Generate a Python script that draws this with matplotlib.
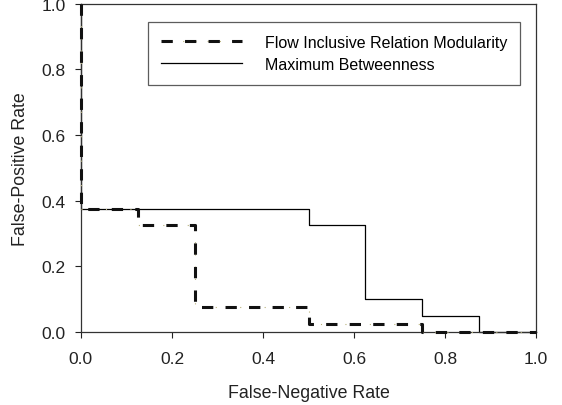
import matplotlib
matplotlib.use("Agg")
import matplotlib.pyplot as plt
from matplotlib.lines import Line2D

plt.rcParams['font.family'] = ['Liberation Sans', 'DejaVu Sans']

# Flow Inclusive Relation Modularity (step curve vertices)
fir_x = [0.0, 0.0, 0.125, 0.125, 0.25, 0.25, 0.5, 0.5, 0.75, 0.75, 1.0]
fir_y = [1.0, 0.375, 0.375, 0.325, 0.325, 0.075, 0.075, 0.025, 0.025, 0.0, 0.0]

# Maximum Betweenness
mb_x = [0.0, 0.0, 0.5, 0.5, 0.625, 0.625, 0.75, 0.75, 0.875, 0.875, 1.0]
mb_y = [1.0, 0.375, 0.375, 0.325, 0.325, 0.1, 0.1, 0.05, 0.05, 0.0, 0.0]

ticks = [0.0, 0.2, 0.4, 0.6, 0.8, 1.0]
tick_labels = ["0.0", "0.2", "0.4", "0.6", "0.8", "1.0"]

OLIVE = '#b8b27c'
DASH_THIN = (2.5, (1, 10))
DASH_THICK = (0, (3.7, 4.0))

fig = plt.figure(figsize=(5.62, 4.06), dpi=100)
ax = fig.add_axes([0.144, 0.180, 0.810, 0.808])

ax.plot(mb_x, mb_y, color='black', lw=0.9, clip_on=False, zorder=2)
ax.plot(fir_x, fir_y, color=OLIVE, lw=0.8, linestyle=DASH_THIN, clip_on=False, zorder=3)
ax.plot(fir_x, fir_y, color='#111111', lw=2.2, linestyle=DASH_THICK, clip_on=False, zorder=4)

ax.set_xlim(0, 1)
ax.set_ylim(0, 1)
ax.set_xticks(ticks)
ax.set_xticklabels(tick_labels)
ax.set_yticks(ticks)
ax.set_yticklabels(tick_labels)
ax.tick_params(direction='out', length=4, width=0.8, labelsize=12.5, colors='#222222')
ax.tick_params(axis='x', pad=10)
ax.tick_params(axis='y', pad=7)
for s in ax.spines.values():
    s.set_linewidth(0.9)
    s.set_color('#333333')

ax.set_xlabel("False-Negative Rate", fontsize=12.8, labelpad=13, color='#222222')
ax.set_ylabel("False-Positive Rate", fontsize=12.8, labelpad=9, color='#222222')

h1 = (Line2D([], [], color=OLIVE, lw=0.8, linestyle=DASH_THIN),
      Line2D([], [], color='#111111', lw=2.2, linestyle=DASH_THICK))
h2 = Line2D([], [], color='black', lw=0.9)
leg = ax.legend([h1, h2], ["Flow Inclusive Relation Modularity", "Maximum Betweenness"],
                loc='upper right', bbox_to_anchor=(0.965, 0.945), borderaxespad=0,
                fontsize=11.5, frameon=True, fancybox=False, edgecolor='#333333',
                handlelength=5.1, handletextpad=1.4, borderpad=0.82, labelspacing=0.42)
leg.get_frame().set_linewidth(0.9)

fig.savefig("out.png", dpi=100)
